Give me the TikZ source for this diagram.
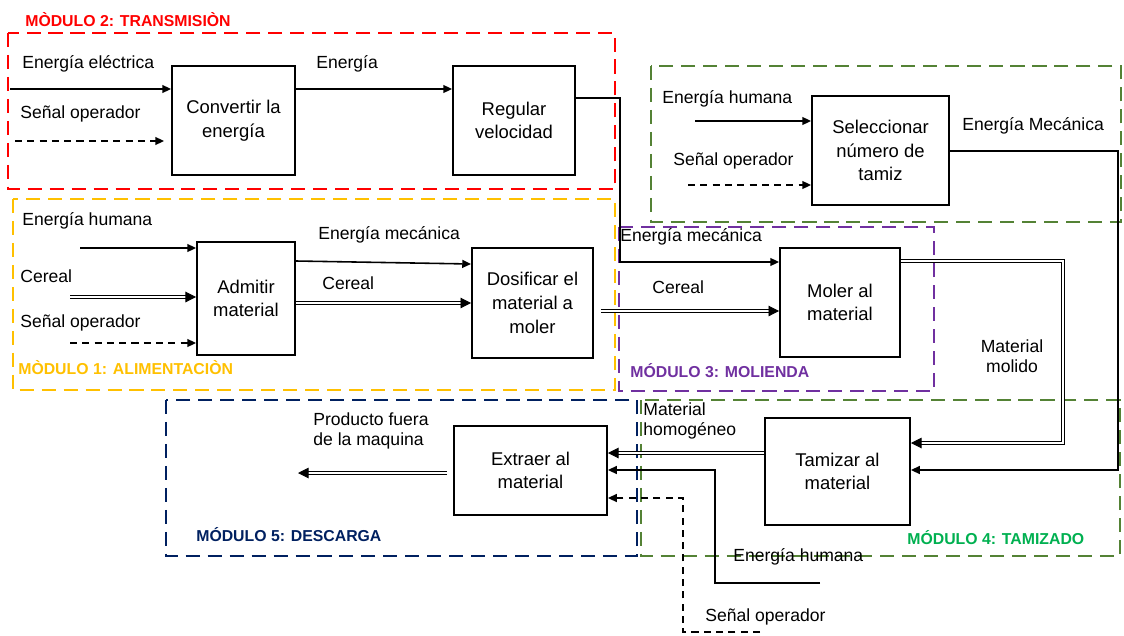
\documentclass[tikz,border=0pt]{standalone}
\usepackage{fontspec}
\setmainfont{Liberation Sans}
\usepackage{xcolor}
\usetikzlibrary{arrows.meta,positioning,calc}
\definecolor{modred}{RGB}{255,0,0}
\definecolor{modyellow}{RGB}{255,192,0}
\definecolor{modpurple}{RGB}{112,48,160}
\definecolor{modgreen}{RGB}{84,130,53}
\definecolor{modgreentxt}{RGB}{0,176,80}
\definecolor{modnavy}{RGB}{0,32,96}
\tikzset{
  func/.style   ={draw,line width=1.1pt,align=center,inner sep=1pt,
                  font=\fontsize{10.5}{13.5}\selectfont},
  dims/.style 2 args={minimum width=#1*0.02cm,minimum height=#2*0.02cm},
  lbl/.style    ={anchor=west,align=left,inner sep=0pt,font=\fontsize{10}{11.5}\selectfont},
  modbox/.style ={line width=1.2pt,dash pattern=on 8pt off 4.5pt},
  modtitle/.style={anchor=west,inner sep=0pt,font=\fontsize{9}{10}\selectfont\bfseries},
  energy/.style ={line width=0.9pt,-{Triangle[length=5pt,width=4.5pt]}},
  signal/.style ={energy,dash pattern=on 4pt off 3pt},
  matter/.style ={double,double distance=1.3pt,line width=0.55pt,
                  -{Triangle[length=6pt,width=6pt]}},
}

\begin{document}
\begin{tikzpicture}[x=0.02cm,y=-0.02cm]
  \useasboundingbox (0,0) rectangle (1124,635);
  % module frames
  \draw[modbox,modred]    (8,33)    rectangle (615,189);
  \draw[modbox,modyellow] (13,199)  rectangle (615,390);
  \draw[modbox,modgreen]  (651,66)  rectangle (1121,222);
  \draw[modbox,modpurple] (619,227) rectangle (934,391);
  \draw[modbox,modnavy]   (166,400) rectangle (637,556);
  \draw[modbox,modgreen]  (641,400) rectangle (1120,556);
  \node[modtitle,modred]      (t2) at (25,20)   {MÒDULO 2: TRANSMISIÒN};
  \node[modtitle,modyellow]   (t1) at (18,368)  {MÒDULO 1: ALIMENTACIÒN};
  \node[modtitle,modpurple]   (t3) at (630,371) {MÓDULO 3: MOLIENDA};
  \node[modtitle,modgreentxt] (t4) at (907,538) {MÓDULO 4: TAMIZADO};
  \node[modtitle,modnavy]     (t5) at (196,535) {MÓDULO 5: DESCARGA};

  % functions
  \node[func,dims={123}{109}] (conv) at (233.5,120.5) {Convertir la\\energía};
  \node[func,dims={122}{109}] (reg)  at (514,120.5)   {Regular\\velocidad};
  \node[func,dims={137}{109}] (sel)  at (880.5,150.5) {Seleccionar\\número de\\tamiz};
  \node[func,dims={98}{113}]  (adm)  at (246,298.5)   {Admitir\\material};
  \node[func,dims={121}{110}] (dos)  at (532.5,303)   {Dosificar el\\material a\\moler};
  \node[func,dims={120}{109}] (mol)  at (840,302.5)   {Moler al\\material};
  \node[func,dims={145}{107}] (tam)  at (837.5,471.5) {Tamizar al\\material};
  \node[func,dims={153}{89}]  (ext)  at (530.5,470.5) {Extraer al\\material};

  % flow labels
  \foreach \x/\y/\txt in {22/64/Energía eléctrica, 20/114/Señal operador, 316/64/Energía,
      662/99/Energía humana, 673/161/Señal operador, 962/126/Energía Mecánica,
      22/221/Energía humana, 20/276/Cereal, 20/323/Señal operador,
      318/235/Energía mecánica, 322/283/Cereal, 652/287/Cereal, 620/237/Energía mecánica,
      313/431/Producto fuera\\de la maquina, 643/421/Material\\homogéneo,
      733/557/Energía humana, 705/617/Señal operador}{
     \node[lbl] at (\x,\y) {\txt};
  }
  \node[lbl,anchor=center,align=center] (molido) at (1012,356) {Material\\molido};

  % free ends
  \coordinate (inEl)  at (10,89);
  \coordinate (inSg2) at (15,141);
  \coordinate (inHu4) at (695,121);
  \coordinate (inSg4) at (688,185);
  \coordinate (inHu1) at (80,248);
  \coordinate (inCe1) at (70,297);
  \coordinate (inSg1) at (70,343);
  \coordinate (inHu5) at (820,583);
  \coordinate (inSg5) at (760,632);
  \coordinate (outP)  at (298,473);

  % module 2
  \draw[energy] (inEl) -- (conv.west |- inEl);
  \draw[signal] (inSg2) -- ([xshift=-7*0.02cm]conv.west |- inSg2);
  \draw[energy] (conv.east |- 0,89) -- (reg.west |- 0,89);
  \draw[energy] (reg.east |- 0,98) -- ++(44,0) |- (mol.west |- 0,262);
  % module 4 (selection)
  \draw[energy] (inHu4) -- (sel.west |- inHu4);
  \draw[signal] (inSg4) -- (sel.west |- inSg4);
  \draw[energy] (sel.east |- 0,151) -- ++(168,0) |- (tam.east |- 0,470);
  % module 1
  \draw[energy] (inHu1) -- (adm.west |- inHu1);
  \draw[matter] (inCe1) -- (adm.west |- inCe1);
  \draw[signal] (inSg1) -- (adm.west |- inSg1);
  \draw[energy] (adm.east |- 0,261) -- (dos.west |- 0,264);
  \draw[matter] (adm.east |- 0,303) -- (dos.west |- 0,303);
  % module 3
  \draw[matter] ([xshift=7*0.02cm]dos.east |- 0,311) -- (mol.west |- 0,311);
  \draw[matter] (mol.east |- 0,261) -- ++(162,0) |- (tam.east |- 0,443);
  % modules 4 and 5
  \draw[matter] (tam.west |- 0,453) -- (ext.east |- 0,453);
  \draw[energy] (inHu5) -- ++(-105,0) |- (ext.east |- 0,470);
  \draw[signal] (inSg5) -- ++(-77,0) |- (ext.east |- 0,498);
  \draw[matter] ([xshift=-6*0.02cm]ext.west |- outP) -- (outP);
\end{tikzpicture}
\end{document}
